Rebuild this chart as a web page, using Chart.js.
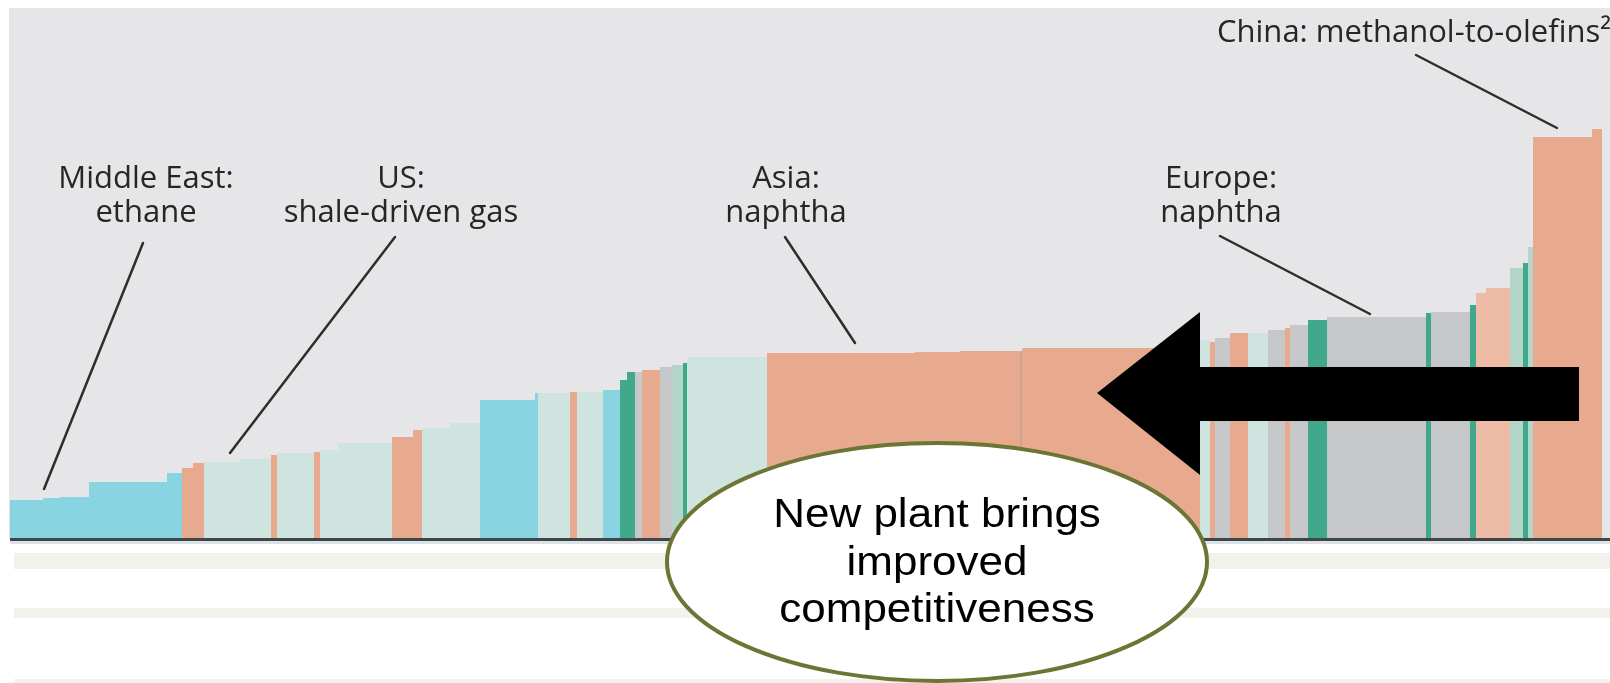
<!DOCTYPE html>
<html>
<head>
<meta charset="utf-8">
<script src="https://cdn.jsdelivr.net/npm/chart.js@4/dist/chart.umd.min.js"></script>
<style>
  html, body { margin: 0; padding: 0; background: #fff; overflow: hidden; }
  canvas { display: block; }
</style>
</head>
<body>
<canvas id="curve" width="1610" height="683"></canvas>
<script>
// Cost curve: each plant block has a capacity (bar width) and a cash cost (bar height).
const capacity = [33, 17, 29, 78, 15, 11, 11, 36, 31, 6, 37, 6, 18, 54, 21, 9, 28, 30, 55, 3,
                  32, 7, 26, 17, 7, 8, 7, 18, 12, 11, 4, 80, 148, 45, 60, 2, 178, 10, 5, 15,
                  18, 20, 17, 5, 18, 19, 99, 5, 39, 6, 10, 24, 13, 5, 5, 59, 10];
const cost = [117, 123, 126, 171, 198, 213, 228, 231, 240, 252, 258, 261, 267, 288, 306, 327, 333, 348, 417, 438,
              438, 441, 441, 447, 477, 501, 501, 507, 516, 522, 528, 546, 558, 561, 564, 564, 573, 597, 591, 603,
              618, 618, 627, 633, 642, 657, 666, 678, 681, 702, 738, 753, 813, 828, 876, 1206, 1230];
const feed = ['teal', 'teal', 'teal', 'teal', 'teal', 'salmon', 'salmon', 'mint', 'mint', 'salmon',
              'mint', 'salmon', 'mint', 'mint', 'salmon', 'salmon', 'mint', 'mint', 'teal', 'teal',
              'mint', 'salmon', 'mint', 'teal', 'green', 'green', 'grey', 'salmon', 'grey', 'sage',
              'green', 'mint', 'salmon', 'salmon', 'salmon', 'tan', 'salmon', 'mint', 'salmon', 'grey',
              'salmon', 'mint', 'grey', 'salmon', 'grey', 'green', 'grey', 'green', 'grey', 'green',
              'peach', 'peach', 'sage', 'green', 'sage', 'salmon', 'salmon'];
const regionLabels = [
  { lines: ['Middle East:', 'ethane'], x: 136, from: [133, 888], to: [34, 150] },
  { lines: ['US:', 'shale-driven gas'], x: 391, from: [385, 906], to: [220, 258] },
  { lines: ['Asia:', 'naphtha'], x: 776, from: [775, 906], to: [845, 588] },
  { lines: ['Europe:', 'naphtha'], x: 1211, from: [1210, 909], to: [1360, 675] }
];
const topLabel = { text: 'China: methanol-to-olefins²', x: 1207, y: 1491, from: [1406, 1452], to: [1547, 1233] };
const calloutLines = ['New plant brings', 'improved', 'competitiveness'];

const palette = {
  teal: '#88d4e1', salmon: '#e8aa8f', mint: '#cfe4de', green: '#40a88b',
  grey: '#c6c7c9', peach: '#eebba6', sage: '#b4d5ca', tan: '#cba68e'
};

// One filled step per plant block, laid end to end along the capacity axis
let start = 0;
const datasets = capacity.map((w, i) => {
  const ds = {
    type: 'line',
    data: [{ x: start, y: cost[i] }, { x: start + w, y: cost[i] }],
    backgroundColor: palette[feed[i]],
    borderWidth: 0,
    pointRadius: 0,
    fill: 'origin',
    tension: 0
  };
  start += w;
  return ds;
});

const backdrop = {
  id: 'backdrop',
  beforeDraw(chart) {
    const { ctx, chartArea: a, width } = chart;
    ctx.save();
    ctx.fillStyle = '#ffffff';
    ctx.fillRect(0, 0, width, chart.height);
    ctx.fillStyle = '#f1f2ec';
    ctx.fillRect(14, a.bottom + 14, width - 14, 16);
    ctx.fillRect(14, a.bottom + 69, width - 14, 10);
    ctx.fillRect(14, a.bottom + 140, width - 14, 4);
    ctx.fillStyle = '#e6e6e8';
    ctx.fillRect(a.left - 1, a.top, a.right - a.left + 1, a.bottom - a.top);
    ctx.restore();
  }
};

const overlay = {
  id: 'overlay',
  afterDatasetsDraw(chart) {
    const { ctx, chartArea: a } = chart;
    const xs = chart.scales.x, ys = chart.scales.y;
    const px = v => xs.getPixelForValue(v);
    const py = v => ys.getPixelForValue(v);
    ctx.save();

    // axis baseline
    const y0 = py(0);
    ctx.fillStyle = '#3f4649';
    ctx.fillRect(a.left, y0 - 1, a.right - a.left, 3);
    ctx.fillStyle = '#dde3e5';
    ctx.fillRect(a.left, y0 + 2, a.right - a.left, 3);

    // region labels with leader lines
    ctx.strokeStyle = '#2e2e2e';
    ctx.lineWidth = 2.5;
    ctx.lineCap = 'round';
    ctx.fillStyle = '#262626';
    ctx.font = '31px "Open Sans", sans-serif';
    ctx.textAlign = 'center';
    ctx.textBaseline = 'alphabetic';
    regionLabels.forEach(l => {
      ctx.fillText(l.lines[0], px(l.x), py(1053));
      ctx.fillText(l.lines[1], px(l.x), py(951));
      ctx.beginPath();
      ctx.moveTo(px(l.from[0]), py(l.from[1]));
      ctx.lineTo(px(l.to[0]), py(l.to[1]));
      ctx.stroke();
    });
    ctx.textAlign = 'left';
    ctx.fillText(topLabel.text, px(topLabel.x), py(topLabel.y));
    ctx.beginPath();
    ctx.moveTo(px(topLabel.from[0]), py(topLabel.from[1]));
    ctx.lineTo(px(topLabel.to[0]), py(topLabel.to[1]));
    ctx.stroke();

    // callout bubble
    const cx = px(927), cy = py(-69);
    ctx.beginPath();
    ctx.ellipse(cx, cy, 270, 119, 0, 0, Math.PI * 2);
    ctx.fillStyle = '#ffffff';
    ctx.fill();
    ctx.strokeStyle = '#6b7534';
    ctx.lineWidth = 4;
    ctx.stroke();
    ctx.fillStyle = '#000000';
    ctx.font = '40px "Liberation Sans", Arial, sans-serif';
    ctx.textAlign = 'center';
    [-35, 13, 60].forEach((dy, i) => {
      ctx.save();
      ctx.translate(cx, cy + dy);
      ctx.scale(1.1, 1);
      ctx.fillText(calloutLines[i], 0, 0);
      ctx.restore();
    });

    // leftward arrow
    ctx.beginPath();
    ctx.moveTo(px(1087), py(438));
    ctx.lineTo(px(1190), py(681));
    ctx.lineTo(px(1190), py(516));
    ctx.lineTo(px(1569), py(516));
    ctx.lineTo(px(1569), py(354));
    ctx.lineTo(px(1190), py(354));
    ctx.lineTo(px(1190), py(192));
    ctx.closePath();
    ctx.fillStyle = '#000000';
    ctx.fill();

    ctx.restore();
  }
};

new Chart(document.getElementById('curve'), {
  type: 'line',
  data: { datasets },
  options: {
    responsive: false,
    devicePixelRatio: 1,
    animation: false,
    layout: { padding: { left: 10, top: 8, right: 0, bottom: 144 } },
    scales: {
      x: { type: 'linear', min: 0, max: 1600, display: false },
      y: { type: 'linear', min: 0, max: 1593, display: false }
    },
    plugins: { legend: { display: false }, tooltip: { enabled: false } }
  },
  plugins: [backdrop, overlay]
});
</script>
</body>
</html>
